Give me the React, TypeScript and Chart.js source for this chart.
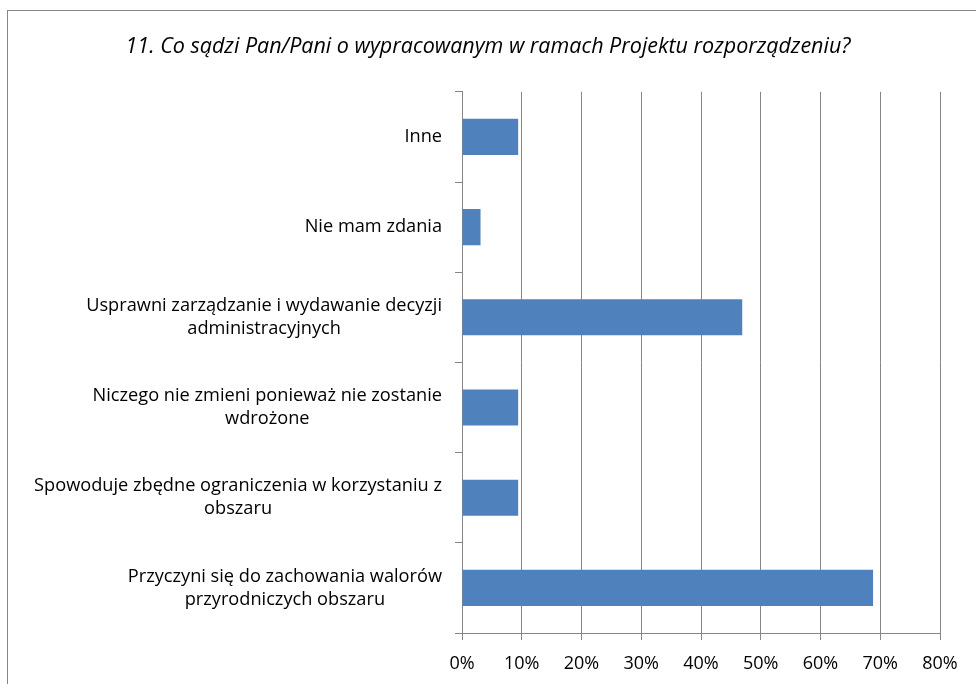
import React, { useEffect, useRef } from "react";
import { Chart, registerables } from "chart.js";

Chart.register(...registerables);

const TITLE = "11. Co sądzi Pan/Pani o wypracowanym w ramach Projektu rozporządzeniu?";
const CATEGORIES: string[][] = [
  ["Inne"],
  ["Nie mam zdania"],
  ["Usprawni zarządzanie i wydawanie decyzji", "administracyjnych"],
  ["Niczego nie zmieni ponieważ nie zostanie", "wdrożone"],
  ["Spowoduje zbędne ograniczenia w korzystaniu z", "obszaru"],
  ["Przyczyni się do zachowania walorów", "przyrodniczych obszaru"],
];
const VALUES = [9.4, 3.1, 46.9, 9.4, 9.4, 68.8];
const X_MIN = 0;
const X_MAX = 80;
const X_STEP = 10;

const FONT = "'Open Sans', sans-serif";
const GRAY = "#868686";
const BAR = "#4F81BD";

const labelPlugin = {
  id: "centeredLabels",
  afterDraw(chart: any) {
    const ys = chart.scales.y;
    const ctx = chart.ctx;
    ctx.save();
    ctx.font = `18.2px ${FONT}`;
    ctx.fillStyle = "#000";
    ctx.textAlign = "center";
    ctx.textBaseline = "middle";
    const right = ys.right - 20;
    const lh = 23;
    CATEGORIES.forEach((lines, i) => {
      const yc = ys.getPixelForTick(i);
      const w = Math.max(...lines.map((l) => ctx.measureText(l).width));
      const cx = right - w / 2;
      const y0 = yc - ((lines.length - 1) * lh) / 2;
      lines.forEach((l, j) => ctx.fillText(l, cx, y0 + j * lh));
    });
    ctx.restore();
  },
};

export default function App() {
  const ref = useRef<HTMLCanvasElement>(null);
  useEffect(() => {
    const chart = new Chart(ref.current!, {
      type: "bar",
      data: {
        labels: CATEGORIES.map((c) => c.join(" ")),
        datasets: [
          {
            data: VALUES,
            backgroundColor: BAR,
            barPercentage: 0.4,
            categoryPercentage: 1,
          },
        ],
      },
      options: {
        indexAxis: "y",
        animation: false,
        responsive: false,
        maintainAspectRatio: false,
        layout: { padding: { left: 0, right: 0, top: 0, bottom: 0 } },
        plugins: {
          legend: { display: false },
          tooltip: { enabled: false },
          title: {
            display: true,
            text: TITLE,
            color: "#000",
            font: { family: FONT, size: 21.5, style: "italic", weight: "normal" },
            padding: { top: 34, bottom: 32 },
          },
        },
        scales: {
          x: {
            min: X_MIN,
            max: X_MAX,
            ticks: {
              stepSize: X_STEP,
              color: "#000",
              font: { family: FONT, size: 18 },
              padding: 13,
              callback: (v: any) => v + "%",
            },
            grid: { color: GRAY, lineWidth: 1, tickLength: 7 },
            border: { color: GRAY, width: 1 },
            afterFit: (s: any) => {
              s.height = 51;
            },
          },
          y: {
            ticks: { display: false },
            grid: { drawOnChartArea: false, color: GRAY, tickLength: 7, offset: true },
            border: { color: GRAY, width: 1 },
            afterFit: (s: any) => {
              s.width = 462;
            },
          },
          yRightSpace: {
            type: "linear",
            position: "right",
            display: true,
            ticks: { display: false },
            grid: { display: false, drawTicks: false },
            border: { display: false },
            afterFit: (s: any) => {
              s.width = 36;
            },
          },
        },
      },
      plugins: [labelPlugin],
    });
    return () => chart.destroy();
  }, []);

  return (
    <div style={{ position: "fixed", left: 0, top: 0, width: 976, height: 684, overflow: "hidden", background: "#fff" }}>
      <div
        style={{
          position: "absolute",
          left: 7,
          top: 10,
          width: 1200,
          height: 1000,
          border: `1px solid ${GRAY}`,
          boxSizing: "border-box",
        }}
      />
      <canvas ref={ref} width={976} height={684} style={{ position: "absolute", left: 0, top: 0 }} />
    </div>
  );
}
